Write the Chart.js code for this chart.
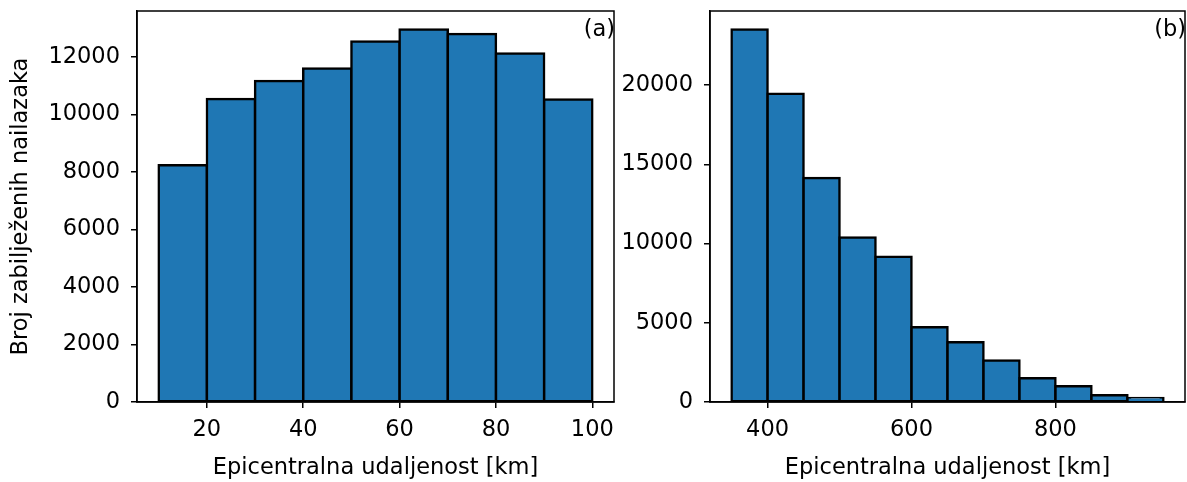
<!DOCTYPE html>
<html>
<head>
<meta charset="utf-8">
<script src="https://cdn.jsdelivr.net/npm/chart.js@4"></script>
<style>
    body { margin: 0; background: #fff; }
    .panel { position: absolute; top: 0; }
</style>
</head>
<body>
<div class="panel" style="left:0"><canvas id="histNear" width="620" height="482"></canvas></div>
<div class="panel" style="left:620px"><canvas id="histFar" width="567" height="482"></canvas></div>
<script>
// bin edges and counts for both histograms
const nearEdges = [10, 20, 30, 40, 50, 60, 70, 80, 90, 100];
const nearCounts = [8230, 10540, 11160, 11600, 12540, 12950, 12800, 12120, 10520];
const farEdges = [350, 400, 450, 500, 550, 600, 650, 700, 750, 800, 850, 900, 950];
const farCounts = [23500, 19450, 14130, 10380, 9160, 4720, 3770, 2620, 1500, 1000, 430, 250];

const nearXTicks = [20, 40, 60, 80, 100];
const nearYTicks = [0, 2000, 4000, 6000, 8000, 10000, 12000];
const farXTicks = [400, 600, 800];
const farYTicks = [0, 5000, 10000, 15000, 20000];

const xTitle = 'Epicentralna udaljenost [km]';
const yTitle = 'Broj zabilježenih nailazaka';

const FONT = 22.5;
Chart.defaults.font.family = "'DejaVu Sans', sans-serif";
Chart.defaults.font.size = FONT;
Chart.defaults.color = '#000';

// closes the axes box and writes the panel tag
const frame = {
    id: 'frame',
    afterDraw(chart, args, opts) {
        const a = chart.chartArea;
        const ctx = chart.ctx;
        ctx.save();
        ctx.strokeStyle = '#000';
        ctx.lineWidth = 1.5;
        ctx.strokeRect(a.left, a.top, a.right - a.left, a.bottom - a.top);
        ctx.font = FONT + "px 'DejaVu Sans', sans-serif";
        ctx.fillStyle = '#000';
        ctx.textAlign = 'right';
        ctx.textBaseline = 'middle';
        ctx.fillText(opts.tag, a.right + 1, a.top + 19);
        ctx.restore();
    }
};

function histogram(id, edges, counts, xTicks, yTicks, opt) {
    const points = counts.map((c, i) => ({x: (edges[i] + edges[i + 1]) / 2, y: c}));
    const span = edges[edges.length - 1] - edges[0];
    const axisLine = {display: true, color: '#000', width: 1.5};
    const tickMarks = {display: true, drawOnChartArea: false, offset: false, tickLength: 6, color: '#000', lineWidth: 1.5};
    return new Chart(document.getElementById(id), {
        type: 'bar',
        data: {
            datasets: [{
                data: points,
                backgroundColor: '#1f77b4',
                borderColor: '#000',
                borderWidth: 2.5,
                borderSkipped: false,
                inflateAmount: 1.25,
                barPercentage: 1,
                categoryPercentage: 1
            }]
        },
        plugins: [frame],
        options: {
            responsive: false,
            animation: false,
            devicePixelRatio: 1,
            layout: {padding: {top: 11, right: opt.right, left: 0, bottom: 0}},
            plugins: {
                legend: {display: false},
                tooltip: {enabled: false},
                frame: {tag: opt.tag}
            },
            scales: {
                x: {
                    type: 'linear',
                    offset: false,
                    min: edges[0] - span * 0.05,
                    max: edges[edges.length - 1] + span * 0.05,
                    afterBuildTicks: s => { s.ticks = xTicks.map(v => ({value: v})); },
                    afterFit: s => { s.height = 80; s.paddingLeft = 0; s.paddingRight = 0; },
                    grid: tickMarks,
                    border: axisLine,
                    ticks: {padding: 9, maxRotation: 0, callback: v => String(v)},
                    title: {display: true, text: xTitle, padding: {top: 0, bottom: 0}}
                },
                y: {
                    min: 0,
                    max: Math.max(...counts) * 1.05,
                    afterBuildTicks: s => { s.ticks = yTicks.map(v => ({value: v})); },
                    afterFit: s => { s.width = opt.yWidth; s.paddingTop = 0; s.paddingBottom = 0; },
                    grid: tickMarks,
                    border: axisLine,
                    ticks: {padding: 11, callback: v => String(v)},
                    title: {display: opt.yLabel, text: yTitle, padding: {top: 8, bottom: 4}}
                }
            }
        }
    });
}

histogram('histNear', nearEdges, nearCounts, nearXTicks, nearYTicks, {tag: '(a)', right: 6, yWidth: 137, yLabel: true});
histogram('histFar', farEdges, farCounts, farXTicks, farYTicks, {tag: '(b)', right: 2, yWidth: 90, yLabel: false});
</script>
</body>
</html>
